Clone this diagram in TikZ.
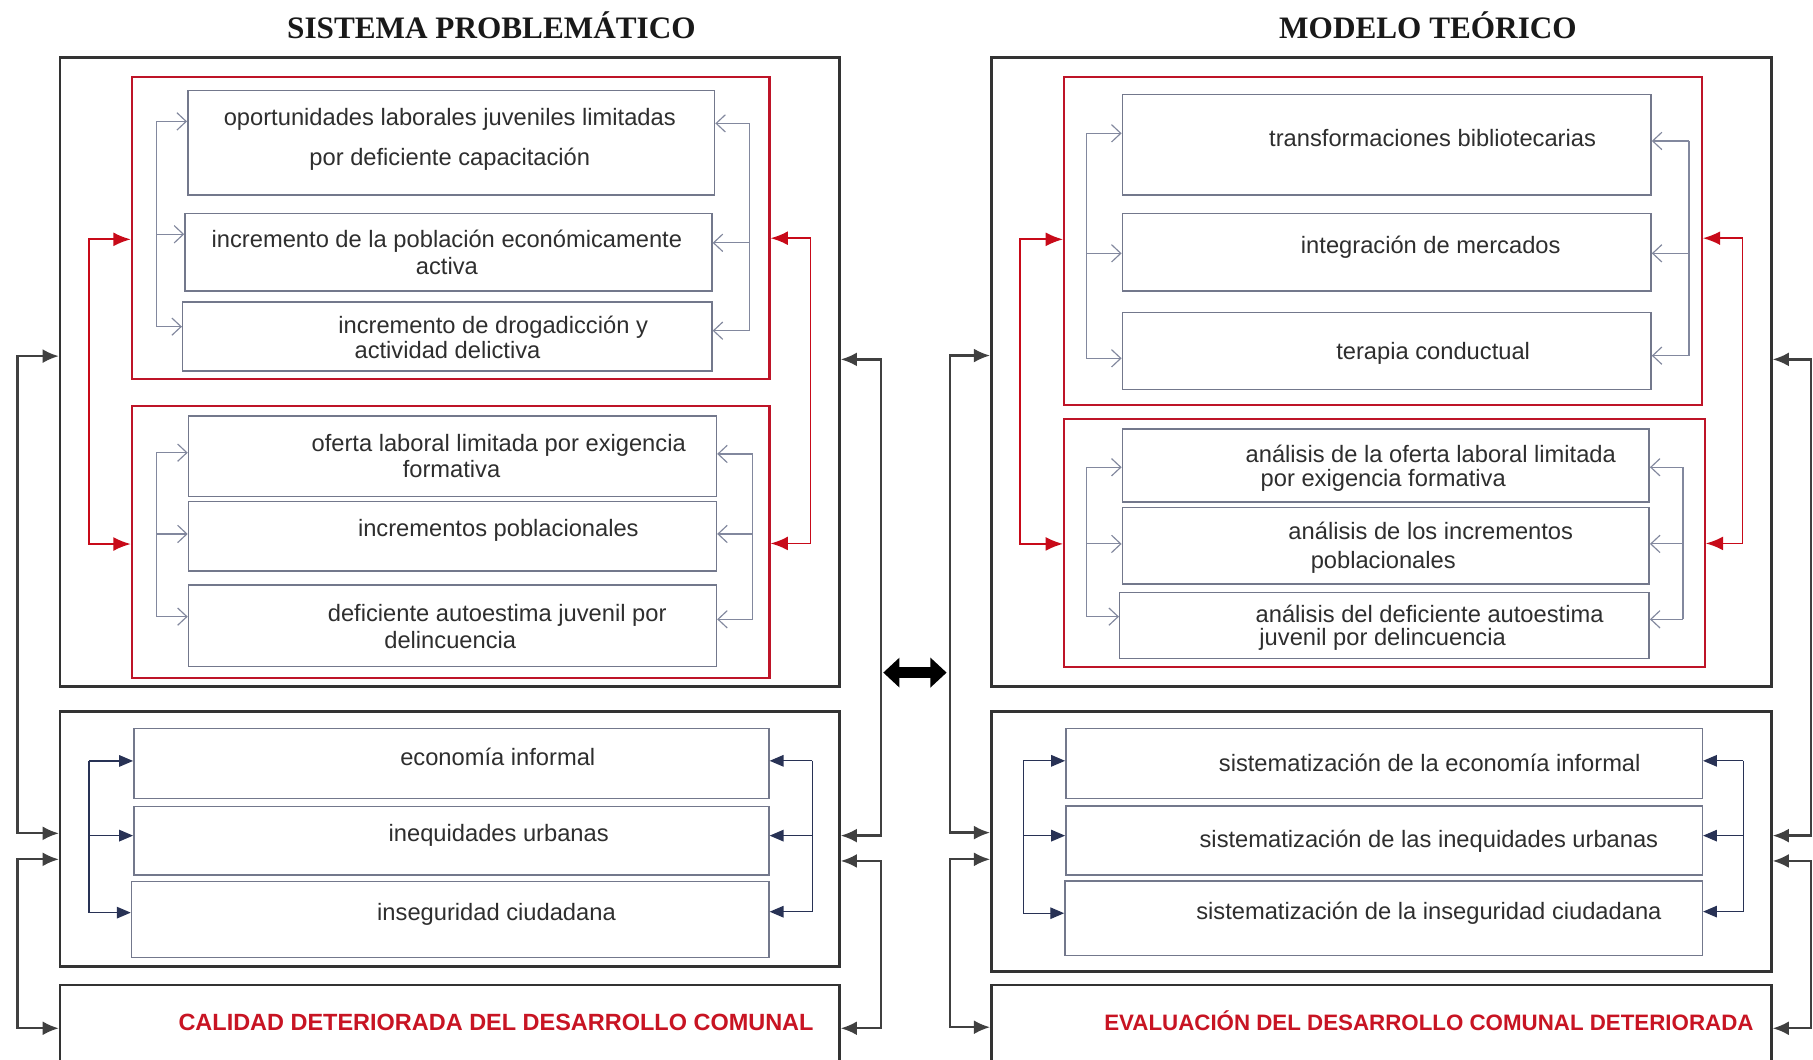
\documentclass[tikz,border=0pt]{standalone}
\usepackage{fontspec}
\setmainfont{Liberation Sans}
\newfontfamily\ttlfont{Liberation Serif}
\usetikzlibrary{arrows.meta,fit}
\definecolor{boxred}{RGB}{190,20,40}
\definecolor{iboxc}{RGB}{115,120,140}
\definecolor{glinec}{RGB}{130,136,158}
\definecolor{navyc}{RGB}{40,50,85}
\definecolor{redc}{RGB}{200,10,25}
\definecolor{txtred}{RGB}{200,20,35}
\newcommand\brk[9]{%
  \coordinate (#6#9) at (#2,#3);
  \coordinate (#7#9) at (#2,#4);
  \coordinate (#8#9) at (#2,#5);
  \draw[#1spine] (#6#9) -- (#8#9);
  \draw[#1arr] (#6#9) -- (#6.#9|-#6#9);
  \draw[#1arr] (#7#9) -- (#7.#9|-#7#9);
  \draw[#1arr] (#8#9) -- (#8.#9|-#8#9);
}
\newcommand\lnk[7]{%
  \coordinate (#5#6#7a) at (#2,#3);
  \coordinate (#5#6#7b) at (#2,#4);
  \draw[#1] (#5.#7|-#5#6#7a) -- (#5#6#7a) -- (#5#6#7b) -- (#6.#7|-#5#6#7b);
}
\begin{document}
\begin{tikzpicture}[x=1pt,y=-1pt,
  outer/.style={draw=black!80, line width=2.2pt, inner sep=0pt},
  redbox/.style={draw=boxred, line width=1.8pt, inner sep=0pt},
  ibox/.style={draw=iboxc, line width=1.3pt, inner sep=0pt, fill=white},
  itext/.style={inner sep=0pt, yshift=-1.8pt, text=black!82, font=\fontsize{20.5}{24}\selectfont, text height=14.7pt, text depth=4.3pt},
  rtext/.style={inner sep=0pt, text=txtred, font=\bfseries\fontsize{20.3}{24}\selectfont, text height=14.2pt, text depth=0pt},
  ttl/.style={inner sep=0pt, text=black!90, font=\ttlfont\bfseries\fontsize{27}{30}\selectfont, text height=18pt, text depth=0pt},
  gspine/.style={draw=glinec, line width=1pt},
  garr/.style={draw=glinec, line width=1pt, -{Straight Barb[length=8pt,width=15pt]}},
  nspine/.style={draw=navyc, line width=1pt},
  narr/.style={draw=navyc, line width=1pt, -{Triangle[length=12pt,width=10pt]}},
  rarr/.style={draw=redc, line width=1.6pt, {Latex[length=15pt,width=12pt]}-{Latex[length=15pt,width=12pt]}},
  barr/.style={draw=black!75, line width=2pt, {Latex[length=14pt,width=12pt]}-{Latex[length=14pt,width=12pt]}},
  dblarr/.style={draw=black, line width=9pt, {Triangle[length=14pt,width=25pt]}-{Triangle[length=14pt,width=25pt]}}
]
\clip (0,0) rectangle (1568,916);
\fill[white] (0,0) rectangle (1568,916);

% titles
\node[ttl] (T1) at (425,24.5) {SISTEMA PROBLEMÁTICO};
\node[ttl] (T2) at (1235,24.5) {MODELO TEÓRICO};

% left section
\node[outer, fit={(52,49.6)(726,593.8)}] (LO1) {};
\node[redbox, fit={(114,66.3)(665.5,328)}] (LR1) {};
\node[ibox, fit={(162.4,78.4)(618,168.6)}] (A1) {};
\node[ibox, fit={(160,184.5)(615.7,251.7)}] (A2) {};
\node[ibox, fit={(158,261)(615.7,320.8)}] (A3) {};
\node[redbox, fit={(114,351.2)(665.5,586.6)}] (LR2) {};
\node[ibox, fit={(163,359.8)(619.6,429.5)}] (B1) {};
\node[ibox, fit={(163,433.9)(619.6,493.8)}] (B2) {};
\node[ibox, fit={(163,505.9)(619.6,576.6)}] (B3) {};
\node[outer, fit={(52,615.5)(726,836)}] (LO2) {};
\node[ibox, fit={(115.7,629.9)(665,690.4)}] (C1) {};
\node[ibox, fit={(115.7,697.6)(665,756.7)}] (C2) {};
\node[ibox, fit={(113.7,762.5)(665,828.2)}] (C3) {};
\node[outer, fit={(52,851.9)(726,930)}] (LO3) {};

\node[itext] (A1a) at (389,101.5) {oportunidades laborales juveniles limitadas};
\node[itext] (A1b) at (389,136) {por deficiente capacitación};
\node[itext] (A2a) at (386.5,207) {incremento de la población económicamente};
\node[itext] (A2b) at (386.5,230.6) {activa};
\node[itext] (A3a) at (426.5,281) {incremento de drogadicción y};
\node[itext] (A3b) at (387,302.7) {actividad delictiva};
\node[itext] (B1a) at (431.3,383.4) {oferta laboral limitada por exigencia};
\node[itext] (B1b) at (390.5,405.9) {formativa};
\node[itext] (B2a) at (431,456.9) {incrementos poblacionales};
\node[itext] (B3a) at (430,530.4) {deficiente autoestima juvenil por};
\node[itext] (B3b) at (389.4,553.5) {delincuencia};
\node[itext] (C1a) at (430.5,655) {economía informal};
\node[itext] (C2a) at (431.3,720.7) {inequidades urbanas};
\node[itext] (C3a) at (429.4,789) {inseguridad ciudadana};
\node[rtext] (LT) at (429,884.4) {CALIDAD DETERIORADA DEL DESARROLLO COMUNAL};

% right section
\node[outer, fit={(857.4,49.6)(1532,593.5)}] (RO1) {};
\node[redbox, fit={(920.3,66.3)(1471.8,350.3)}] (RR1) {};
\node[ibox, fit={(970.7,81.6)(1427.9,168.6)}] (D1) {};
\node[ibox, fit={(970.7,184.5)(1427.9,251.7)}] (D2) {};
\node[ibox, fit={(970.7,270.1)(1427.9,336.7)}] (D3) {};
\node[redbox, fit={(920.3,362.6)(1474.3,577.1)}] (RR2) {};
\node[ibox, fit={(970.7,370.9)(1426.3,434)}] (E1) {};
\node[ibox, fit={(970.7,438.9)(1426.3,505)}] (E2) {};
\node[ibox, fit={(968.4,512.5)(1426.3,569.3)}] (E3) {};
\node[outer, fit={(857.4,615.5)(1532,840.3)}] (RO2) {};
\node[ibox, fit={(921.8,629.9)(1472.3,690.4)}] (F1) {};
\node[ibox, fit={(921.8,697)(1472.3,756.7)}] (F2) {};
\node[ibox, fit={(921,761.9)(1472.3,826.5)}] (F3) {};
\node[outer, fit={(857.4,851.9)(1532,930)}] (RO3) {};

\node[itext] (D1a) at (1239,119.6) {transformaciones bibliotecarias};
\node[itext] (D2a) at (1237.4,211.9) {integración de mercados};
\node[itext] (D3a) at (1239.5,303.6) {terapia conductual};
\node[itext] (E1a) at (1237.4,392.6) {análisis de la oferta laboral limitada};
\node[itext] (E1b) at (1196.3,413.7) {por exigencia formativa};
\node[itext] (E2a) at (1237.4,459.8) {análisis de los incrementos};
\node[itext] (E2b) at (1196.3,484.3) {poblacionales};
\node[itext] (E3a) at (1236.4,531.3) {análisis del deficiente autoestima};
\node[itext] (E3b) at (1195.8,551.5) {juvenil por delincuencia};
\node[itext] (F1a) at (1236.5,660.1) {sistematización de la economía informal};
\node[itext] (F2a) at (1235.8,725.9) {sistematización de las inequidades urbanas};
\node[itext] (F3a) at (1235.8,788.4) {sistematización de la inseguridad ciudadana};
\node[rtext, font=\bfseries\fontsize{19.3}{24}\selectfont] (RT) at (1235.8,884.4) {EVALUACIÓN DEL DESARROLLO COMUNAL DETERIORADA};

% bracket connectors
\brk{g}{135}{105}{202.6}{282.5}{A1}{A2}{A3}{west}
\brk{g}{648}{106.7}{210}{286}{A1}{A2}{A3}{east}
\brk{g}{135}{391.5}{461.8}{533.3}{B1}{B2}{B3}{west}
\brk{g}{651}{392.6}{461.8}{535.6}{B1}{B2}{B3}{east}
\brk{n}{77}{658.1}{722.7}{789.3}{C1}{C2}{C3}{west}
\brk{n}{702.6}{658}{722.7}{788.5}{C1}{C2}{C3}{east}
\brk{g}{939.5}{115.3}{219.1}{309.9}{D1}{D2}{D3}{west}
\brk{g}{1460.7}{121.9}{219.1}{307.6}{D1}{D2}{D3}{east}
\brk{g}{939.6}{404.1}{470.4}{533.3}{E1}{E2}{E3}{west}
\brk{g}{1455.6}{404.1}{470.4}{535.6}{E1}{E2}{E3}{east}
\brk{n}{885}{658}{722.7}{789.8}{F1}{F2}{F3}{west}
\brk{n}{1507.7}{658}{722.7}{788.4}{F1}{F2}{F3}{east}

% red links
\lnk{rarr}{77}{207}{470.5}{LR1}{LR2}{west}
\lnk{rarr}{701}{206}{470}{LR1}{LR2}{east}
\lnk{rarr}{882.5}{207}{470.4}{RR1}{RR2}{west}
\lnk{rarr}{1507}{206}{470}{RR1}{RR2}{east}

% black links
\lnk{barr}{15}{308}{720.7}{LO1}{LO2}{west}
\lnk{barr}{15}{743.2}{889.3}{LO2}{LO3}{west}
\lnk{barr}{762}{310.8}{722.7}{LO1}{LO2}{east}
\lnk{barr}{762}{744.6}{889.3}{LO2}{LO3}{east}
\lnk{barr}{821.4}{307.5}{720.1}{RO1}{RO2}{west}
\lnk{barr}{821.4}{743.2}{888.4}{RO2}{RO3}{west}
\lnk{barr}{1566.3}{310.8}{722.7}{RO1}{RO2}{east}
\lnk{barr}{1566.3}{744.6}{889.3}{RO2}{RO3}{east}

% central double arrow
\coordinate (dbl) at (763.9,581.7);
\coordinate (dbr) at (818.7,581.7);
\draw[dblarr] (dbl) -- (dbr);
\end{tikzpicture}
\end{document}
